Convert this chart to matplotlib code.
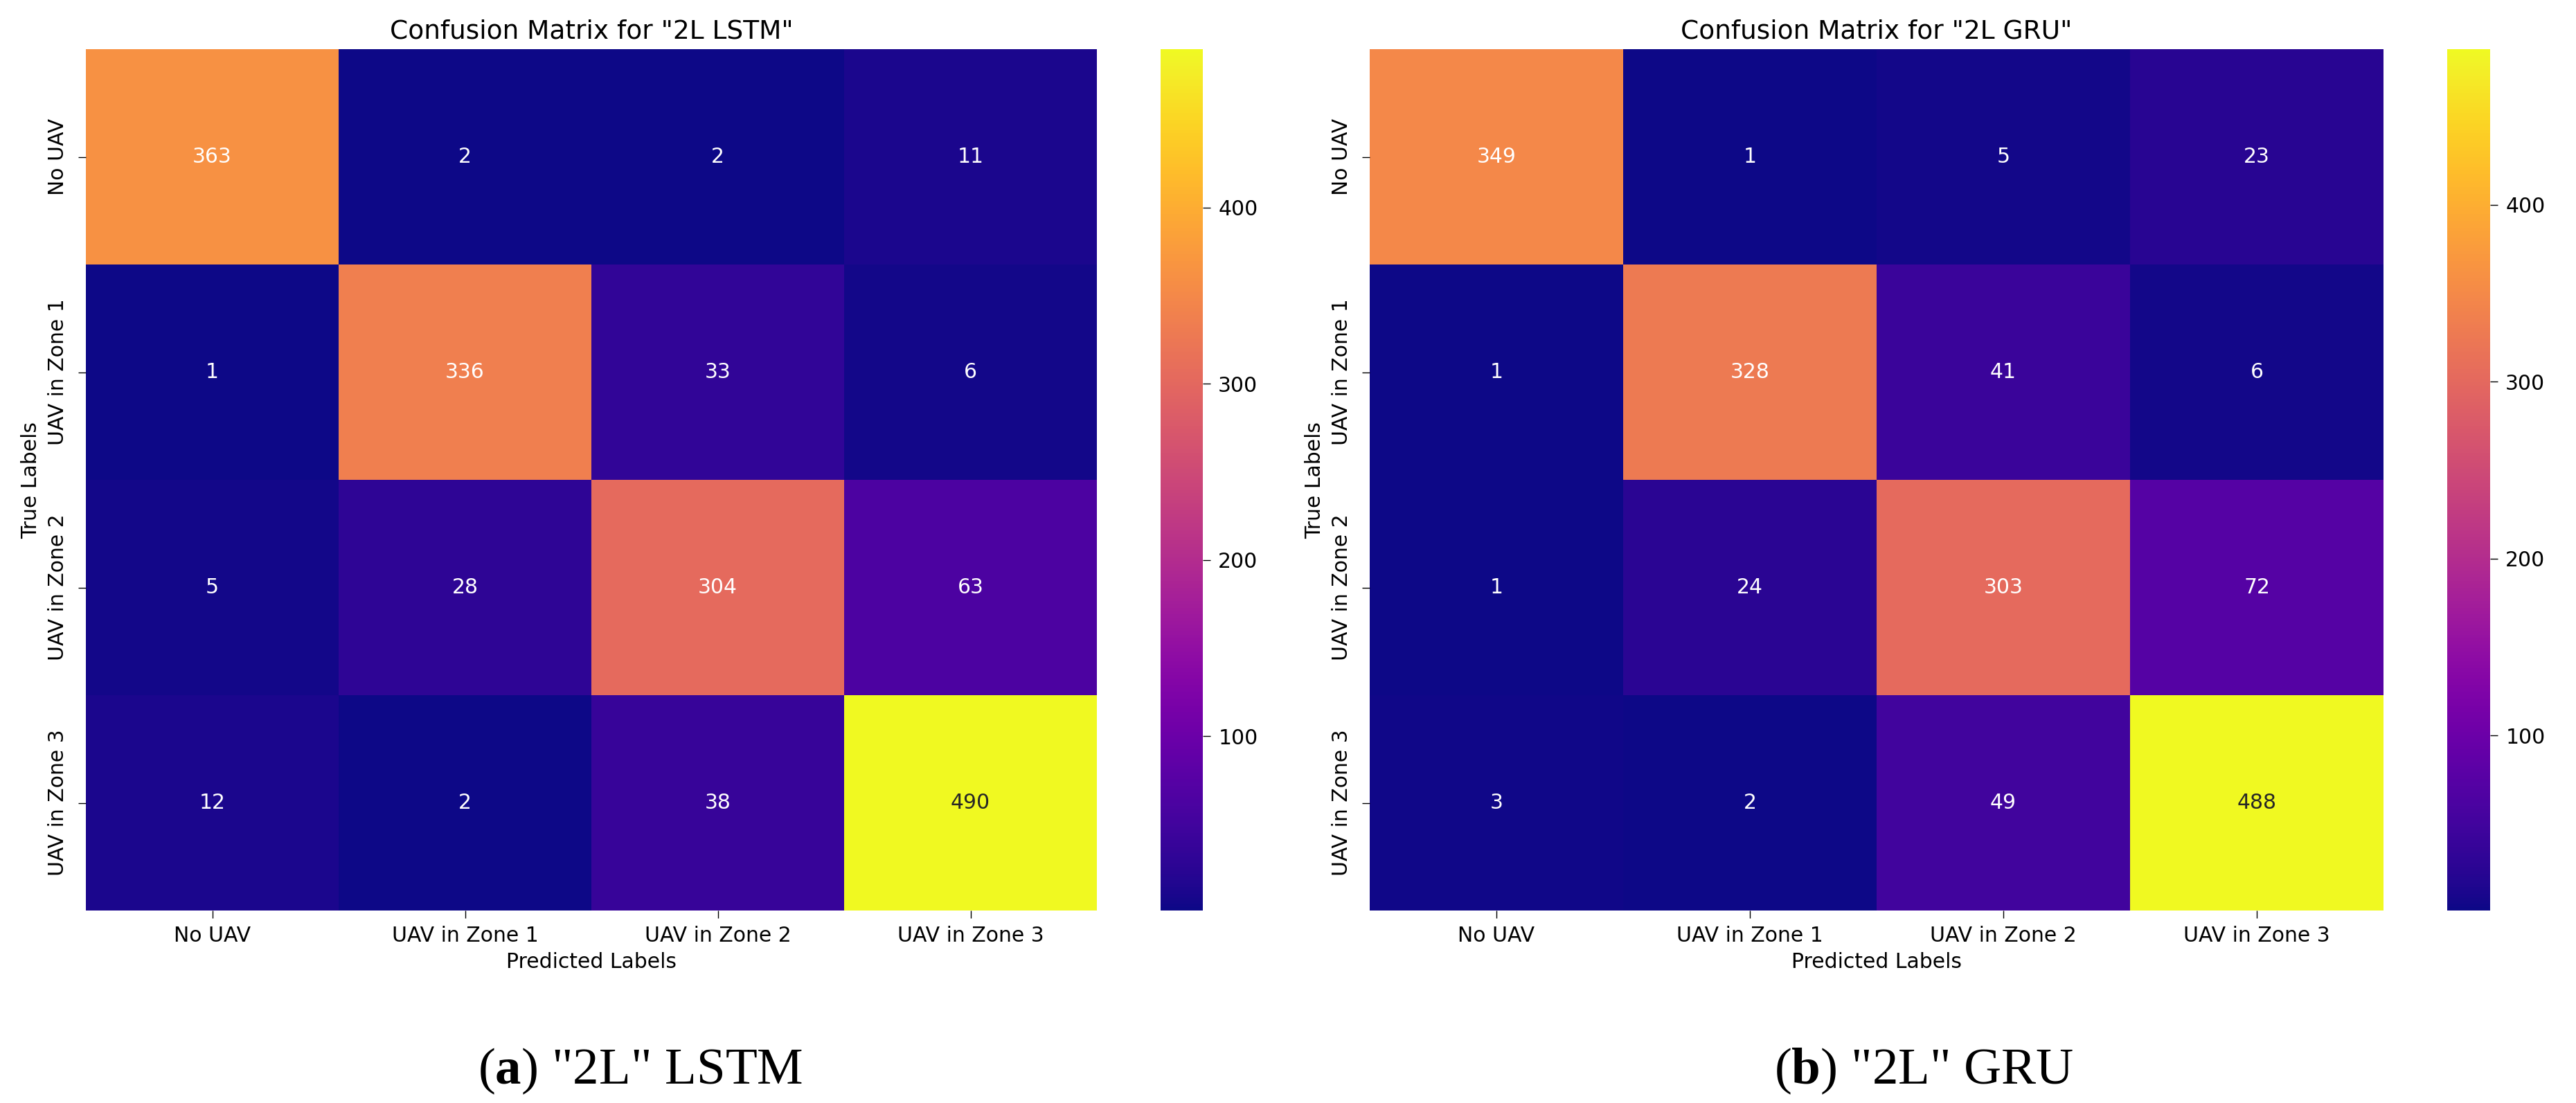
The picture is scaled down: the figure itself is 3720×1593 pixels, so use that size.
import numpy as np
import matplotlib
matplotlib.use('Agg')
import matplotlib.pyplot as plt
import seaborn as sns

# class names (same on both axes)
labels = ['No UAV', 'UAV in Zone 1', 'UAV in Zone 2', 'UAV in Zone 3']

# confusion matrices (rows = true, cols = predicted)
cm_lstm = np.array([[363, 2, 2, 11],
                    [1, 336, 33, 6],
                    [5, 28, 304, 63],
                    [12, 2, 38, 490]])
cm_gru = np.array([[349, 1, 5, 23],
                   [1, 328, 41, 6],
                   [1, 24, 303, 72],
                   [3, 2, 49, 488]])

model_names = ['2L LSTM', '2L GRU']
captions = [r'($\mathbf{a}$) "2L" LSTM', r'($\mathbf{b}$) "2L" GRU']

plt.rcParams['font.family'] = ['DejaVu Sans']
plt.rcParams['mathtext.fontset'] = 'custom'
plt.rcParams['mathtext.rm'] = 'Liberation Serif'
plt.rcParams['mathtext.bf'] = 'Liberation Serif:bold'

W, H = 3720, 1593
fig = plt.figure(figsize=(W / 100, H / 100), dpi=100)

bottom = (H - 1315) / H
height = 1244 / H
# pixel boxes: (heatmap left, heatmap width, cbar left, cbar width, caption x)
boxes = [(124, 1460, 1676, 61, 925),
         (1978, 1464, 3534, 62, 2778)]

tick_fs = 21.5
for cm, name, cap, (hx, hw, cx, cw, capx) in zip([cm_lstm, cm_gru], model_names, captions, boxes):
    ax = fig.add_axes([hx / W, bottom, hw / W, height])
    cax = fig.add_axes([cx / W, bottom, cw / W, height])
    sns.heatmap(cm, annot=True, fmt='d', cmap='plasma', ax=ax, cbar_ax=cax,
                xticklabels=labels, yticklabels=labels,
                annot_kws={'fontsize': tick_fs})
    ax.set_title(f'Confusion Matrix for "{name}"', fontsize=27, pad=11)
    ax.set_xlabel('Predicted Labels', fontsize=tick_fs, labelpad=6)
    ax.set_ylabel('True Labels', fontsize=tick_fs, labelpad=7)
    ax.set_yticklabels(labels, rotation=90, va='center', fontsize=tick_fs)
    ax.set_xticklabels(labels, rotation=0, fontsize=tick_fs)
    ax.tick_params(axis='x', length=8, width=1, pad=8)
    ax.tick_params(axis='y', length=8, width=1, pad=11)

    cax.set_yticks([100, 200, 300, 400])
    cax.tick_params(labelsize=tick_fs, length=8, width=1, pad=8)

    fig.text(capx / W, (H - 1565) / H, cap, ha='center', va='baseline',
             fontsize=54, family='Liberation Serif')

fig.savefig('out.png', dpi=100)
